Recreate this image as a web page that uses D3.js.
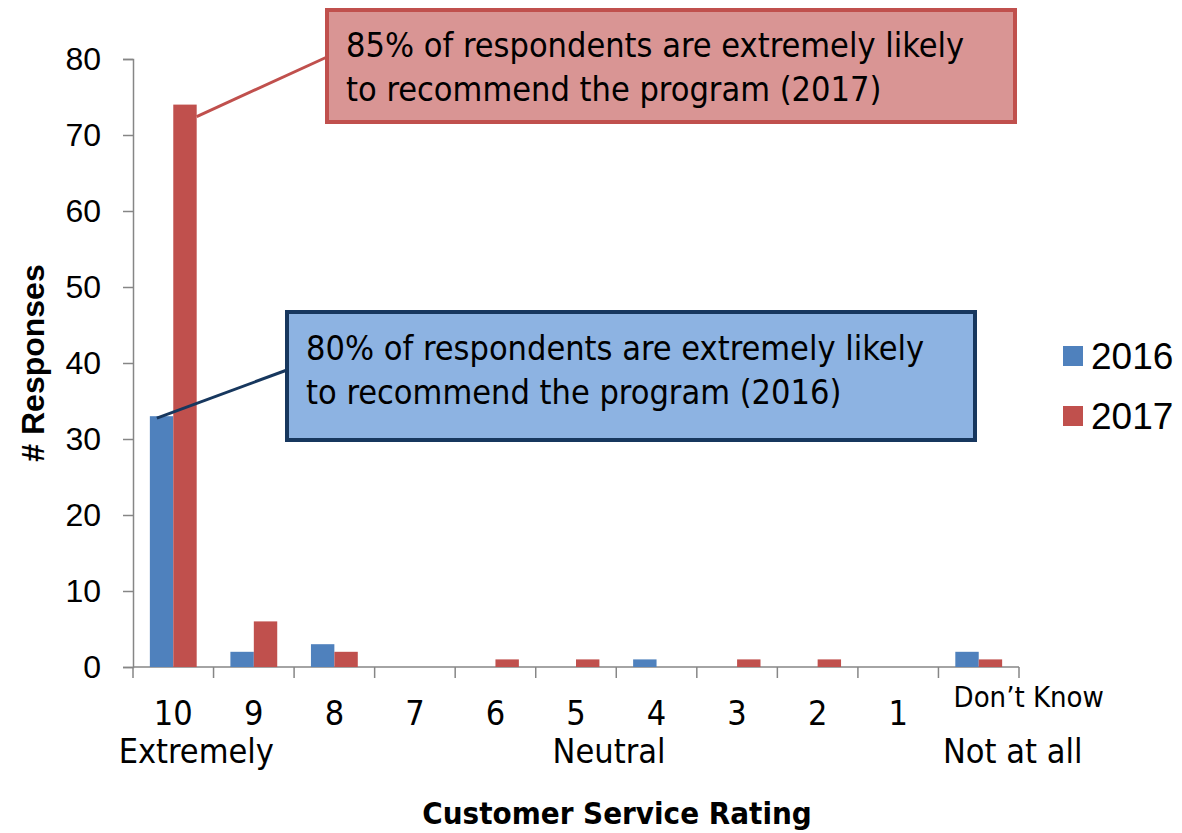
<!DOCTYPE html>
<html>
<head>
<meta charset="utf-8">
<script src="https://cdn.jsdelivr.net/npm/d3@7"></script>
<style>
  body { margin: 0; background: #fff; }
  .narrow { font-family: "Liberation Sans Narrow", "DejaVu Sans Condensed", "Liberation Sans", sans-serif; font-stretch: condensed; }
  .plain { font-family: "Liberation Sans", Arial, sans-serif; }
</style>
</head>
<body>
<svg width="1182" height="833"></svg>
<script>
// chart data
var ratings = ["10", "9", "8", "7", "6", "5", "4", "3", "2", "1", "Don\u2019t Know"];
var years = ["2016", "2017"];
var values2016 = [33, 2, 3, 0, 0, 0, 1, 0, 0, 0, 2];
var values2017 = [74, 6, 2, 0, 1, 1, 0, 1, 1, 0, 1];
var yTicks = [0, 10, 20, 30, 40, 50, 60, 70, 80];
var scaleLabels = [["Extremely", "10"], ["Neutral", "5"], ["Not at all", "Don\u2019t Know"]];
var notes = [
  {year: "2017", lines: ["85% of respondents are extremely likely", "to recommend the program (2017)"]},
  {year: "2016", lines: ["80% of respondents are extremely likely", "to recommend the program (2016)"]}
];

var colors = {"2016": "#4f81bd", "2017": "#c0504d"};
var svg = d3.select("svg");

var plotL = 133, plotR = 1019, plotT = 59, plotB = 667;

var x = d3.scaleBand().domain(ratings).range([plotL, plotR]);
var xs = d3.scaleBand().domain(years).range([0, x.bandwidth()]).paddingInner(0).paddingOuter(0.72);
var y = d3.scaleLinear().domain([0, 80]).range([plotB, plotT]);

// y axis
var yAxis = svg.append("g")
  .attr("transform", "translate(" + plotL + ",0)")
  .call(d3.axisLeft(y).tickValues(yTicks).tickSize(10).tickPadding(22));
yAxis.select(".domain").attr("stroke", "#868686").attr("stroke-width", 1.5);
yAxis.selectAll(".tick line").attr("stroke", "#868686").attr("stroke-width", 1.5);
yAxis.selectAll(".tick text").attr("class", "plain").attr("font-size", 32).attr("fill", "#000");

// x axis with ticks at band boundaries
var xAxis = svg.append("g").attr("transform", "translate(0," + plotB + ")");
xAxis.append("line").attr("x1", plotL).attr("x2", plotR).attr("stroke", "#868686").attr("stroke-width", 1.5);
var bounds = ratings.map(function(r) { return x(r); }).concat([plotR]);
xAxis.selectAll("line.tk").data(bounds).enter().append("line")
  .attr("class", "tk")
  .attr("x1", function(d) { return d; }).attr("x2", function(d) { return d; })
  .attr("y1", 0).attr("y2", 11)
  .attr("stroke", "#868686").attr("stroke-width", 1.5);

// bars
var rows = ratings.map(function(r, i) { return {r: r, v: {"2016": values2016[i], "2017": values2017[i]}}; });
var grp = svg.append("g").selectAll("g").data(rows).enter().append("g")
  .attr("transform", function(d) { return "translate(" + x(d.r) + ",0)"; });
grp.selectAll("rect").data(function(d) { return years.map(function(yr) { return {yr: yr, v: d.v[yr]}; }); })
  .enter().append("rect")
  .attr("x", function(d) { return xs(d.yr); })
  .attr("width", xs.bandwidth())
  .attr("y", function(d) { return y(d.v); })
  .attr("height", function(d) { return y(0) - y(d.v); })
  .attr("fill", function(d) { return colors[d.yr]; });

// x tick labels
svg.append("g").selectAll("text").data(ratings).enter().append("text")
  .attr("class", "narrow")
  .attr("x", function(d) { return x(d) + x.bandwidth() / 2 + (d.length > 2 ? 50 : 0); })
  .attr("y", function(d) { return d.length > 2 ? 707 : 725; })
  .attr("text-anchor", "middle")
  .attr("font-size", function(d) { return d.length > 2 ? 29 : 34; })
  .text(function(d) { return d; });

svg.append("g").selectAll("text").data(scaleLabels).enter().append("text")
  .attr("class", "narrow")
  .attr("x", function(d) { return x(d[1]) + x.bandwidth() / 2 + (d[1] === "10" ? 23 : (d[1] === "5" ? 33 : 34)); })
  .attr("y", 763)
  .attr("text-anchor", "middle")
  .attr("font-size", 34)
  .text(function(d) { return d[0]; });

// axis titles
svg.append("text").attr("class", "narrow")
  .attr("x", 617).attr("y", 824)
  .attr("text-anchor", "middle").attr("font-size", 31).attr("font-weight", "bold")
  .text("Customer Service Rating");

svg.append("text").attr("class", "plain")
  .attr("transform", "translate(44,363) rotate(-90)")
  .attr("text-anchor", "middle").attr("font-size", 32).attr("font-weight", "bold")
  .text("# Responses");

// legend
var leg = svg.append("g").selectAll("g").data(years).enter().append("g")
  .attr("transform", function(d, i) { return "translate(1063," + (346 + i * 60) + ")"; });
leg.append("rect").attr("width", 20).attr("height", 20).attr("fill", function(d) { return colors[d]; });
leg.append("text").attr("class", "plain")
  .attr("x", 28).attr("y", 23).attr("font-size", 37)
  .text(function(d) { return d; });

// callouts
var boxes = {
  "2017": {x0: 327, y0: 10, w: 688, h: 112, fill: "#d99594", stroke: "#c0504d", ly: 57, tx: 346, ty: 57},
  "2016": {x0: 287, y0: 312, w: 688, h: 128, fill: "#8db3e2", stroke: "#17375e", ly: 370, tx: 306, ty: 360}
};
notes.forEach(function(n) {
  var b = boxes[n.year];
  var i0 = 0;
  var v = n.year === "2016" ? values2016[i0] : values2017[i0];
  var bx = x(ratings[i0]) + xs(n.year) + (n.year === "2016" ? 7 : xs.bandwidth());
  var by = y(v) + (n.year === "2016" ? 2 : 12);
  svg.append("line")
    .attr("x1", b.x0).attr("y1", b.ly).attr("x2", bx).attr("y2", by)
    .attr("stroke", b.stroke).attr("stroke-width", 3);
  svg.append("rect")
    .attr("x", b.x0).attr("y", b.y0).attr("width", b.w).attr("height", b.h)
    .attr("fill", b.fill).attr("stroke", b.stroke).attr("stroke-width", 4);
  svg.append("text").attr("class", "narrow")
    .attr("font-size", 34)
    .selectAll("tspan").data(n.lines).enter().append("tspan")
    .attr("x", b.tx).attr("y", function(d, i) { return b.ty + i * 44; })
    .text(function(d) { return d; });
});
</script>
</body>
</html>
